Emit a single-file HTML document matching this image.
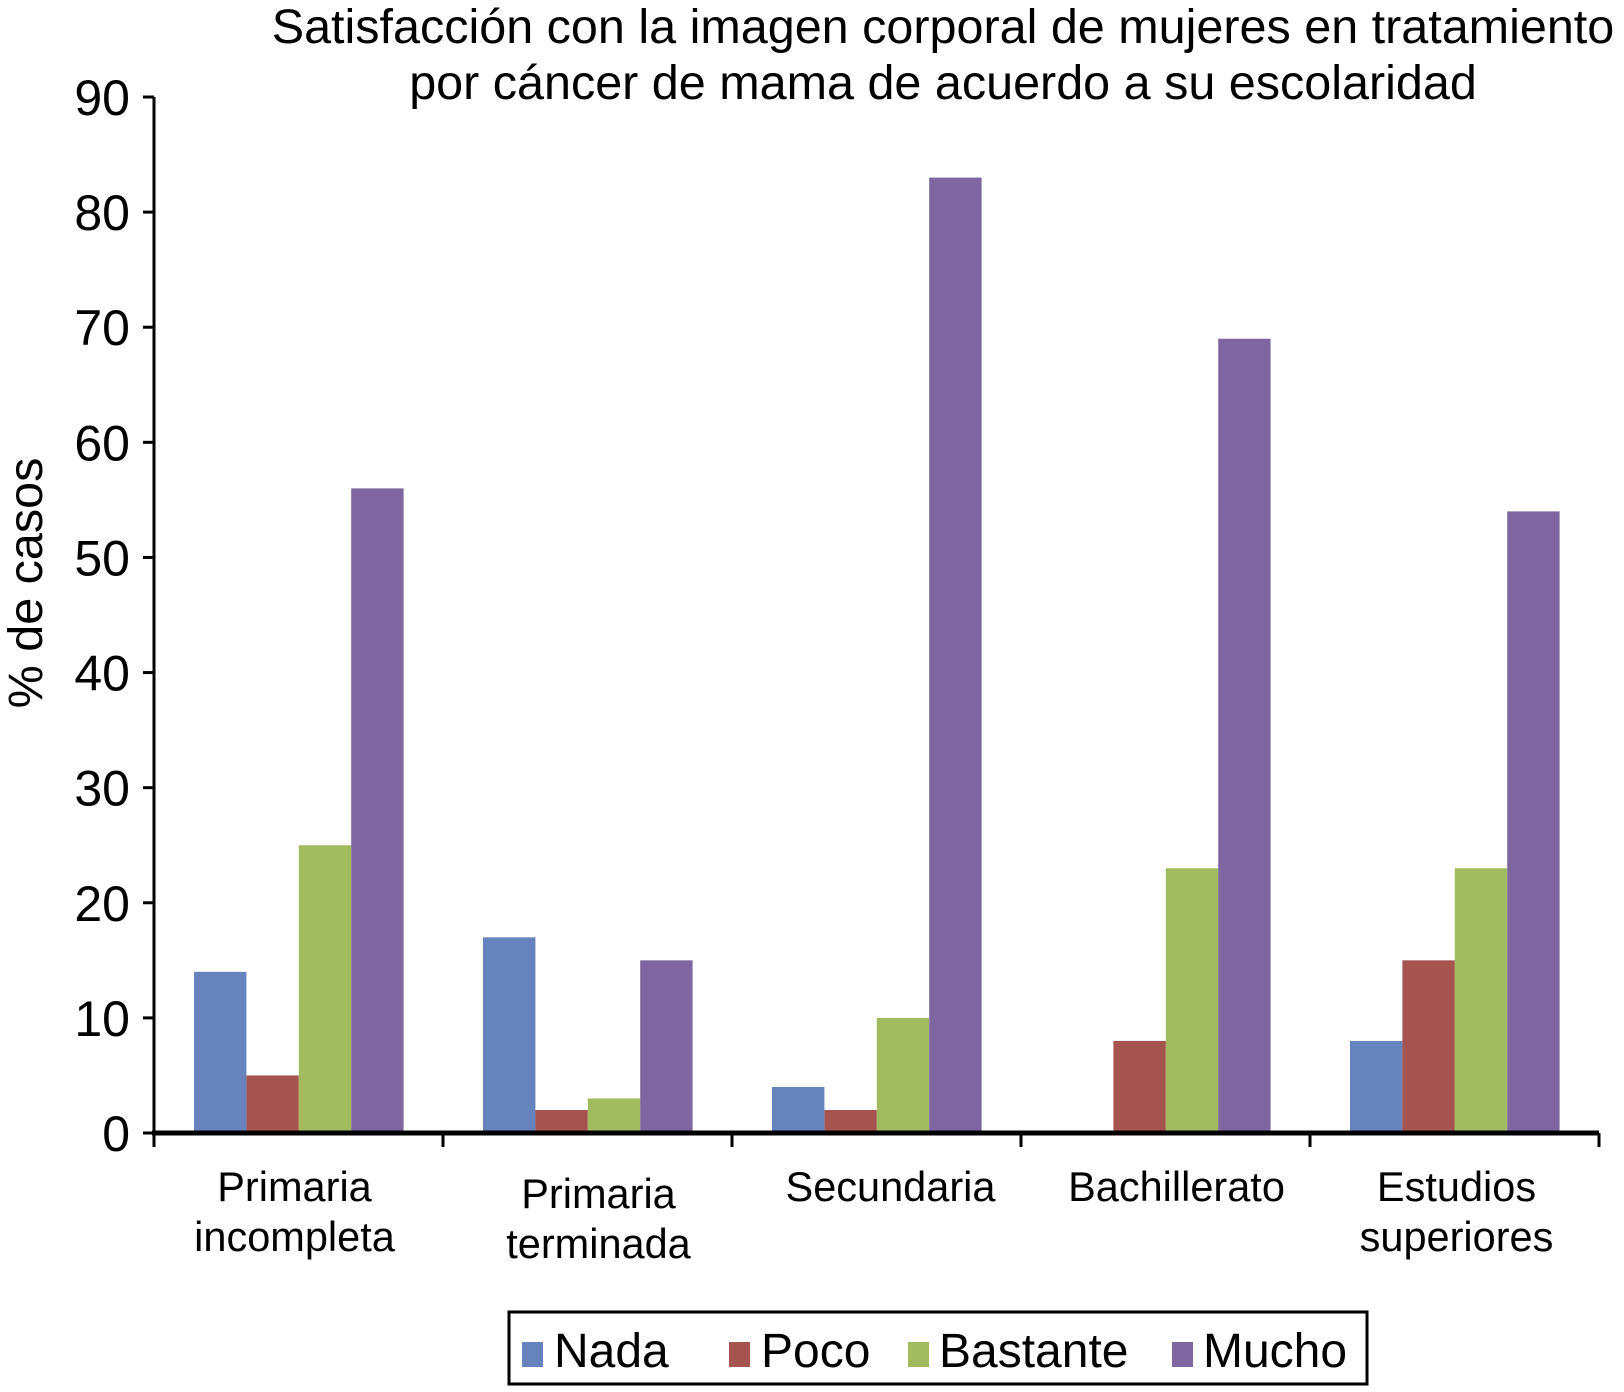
<!DOCTYPE html>
<html><head><meta charset="utf-8"><style>
body{margin:0;background:#fff}
svg text{font-family:"Liberation Sans",sans-serif;fill:#000}
</style></head><body>
<svg id="chart" width="1624" height="1387" xmlns="http://www.w3.org/2000/svg">
<text x="943" y="43" font-size="48.5" text-anchor="middle">Satisfacción con la imagen corporal de mujeres en tratamiento</text>
<text x="943" y="99" font-size="48.5" text-anchor="middle">por cáncer de mama de acuerdo a su escolaridad</text>
<text transform="translate(42,583) rotate(-90)" font-size="48.5" text-anchor="middle">% de casos</text>
<g id="bars"></g>
<g id="axes"></g>
<g>
<rect x="509" y="1312" width="858" height="72" fill="#fff" stroke="#000" stroke-width="3"/>
<g id="legend-items"></g>
</g>
</svg>
<script>
const categories=[["Primaria","incompleta"],["Primaria","terminada"],["Secundaria"],["Bachillerato"],["Estudios","superiores"]];
const seriesNames=["Nada","Poco","Bastante","Mucho"];
const nada=[14,17,4,0,8];
const poco=[5,2,2,8,15];
const bastante=[25,3,10,23,23];
const mucho=[56,15,83,69,54];
const yTicks=[0,10,20,30,40,50,60,70,80,90];
const colors=["#6783be","#a5544f","#a2bb5e","#7e67a0"];
const series=[nada,poco,bastante,mucho];
const NS="http://www.w3.org/2000/svg";
const x0=154,gw=289,y0=1133,yTop=97,bw=52.4,off=40;
const y=v=>y0-(y0-yTop)*v/90;
const bars=document.getElementById('bars'),axes=document.getElementById('axes');
function mk(tag,attrs,parent){const e=document.createElementNS(NS,tag);for(const k in attrs)e.setAttribute(k,attrs[k]);parent.appendChild(e);return e;}
series.forEach((s,si)=>s.forEach((v,ci)=>{
 const r=mk('rect',{x:x0+ci*gw+off+si*bw,y:y(v),width:bw,height:y0-y(v),fill:colors[si]},bars);
 
 
}));
const ya=mk('line',{x1:x0,y1:yTop,x2:x0,y2:y0,stroke:'#000','stroke-width':3},axes);


yTicks.forEach(t=>{
 const tl=mk('line',{x1:x0-11,y1:y(t),x2:x0,y2:y(t),stroke:'#000','stroke-width':3},axes);
 
 
 const tx=mk('text',{x:x0-24,y:y(t)+18,'font-size':50,'text-anchor':'end'},axes);
 tx.textContent=t;
 
 
});
const xa=mk('line',{x1:x0-2,y1:y0,x2:x0+5*gw,y2:y0,stroke:'#000','stroke-width':5},axes);


for(let i=0;i<=5;i++){
 const tl=mk('line',{x1:x0+i*gw,y1:y0,x2:x0+i*gw,y2:y0+14,stroke:'#000','stroke-width':3},axes);
 
 
}
const labelY=[1201,1208,1201,1201,1201];
const labelShift=[-4,11,14,11,2];
categories.forEach((c,i)=>{
 const t=mk('text',{x:x0+i*gw+gw/2+labelShift[i],y:labelY[i],'font-size':41.5,'text-anchor':'middle'},axes);
 
 
 c.forEach((ln,j)=>{const ts=mk('tspan',{x:t.getAttribute('x'),dy:j?50:0},t);ts.textContent=ln;});
});
const li=document.getElementById('legend-items');
const lx=[522,729,908,1172],tx=[554,761,939,1203];
seriesNames.forEach((n,i)=>{
 const sw=mk('rect',{x:lx[i],y:1342,width:21,height:25,fill:colors[i]},li);
 
 
 const t=mk('text',{x:tx[i],y:1367,'font-size':48},li);
 t.textContent=n;
 
 
});
</script>
</body></html>
